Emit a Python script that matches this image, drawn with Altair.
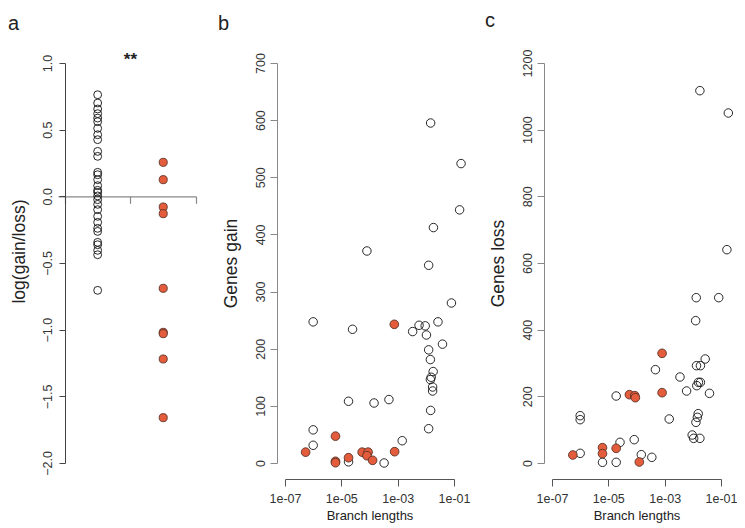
import altair as alt
import pandas as pd

FONT = "Liberation Sans"
RED = "#E35D3D"
RED_STROKE = "#4a2a20"

# ---------- panel a: log(gain/loss) ----------
a_white = [0.762, 0.70, 0.655, 0.62, 0.587, 0.56, 0.51, 0.462, 0.425, 0.337, 0.30,
           0.18, 0.162, 0.125, 0.08, 0.045, 0.03, 0.003, -0.025, -0.06, -0.10, -0.15,
           -0.195, -0.24, -0.263, -0.345, -0.363, -0.405, -0.438, -0.705]
a_red = [0.255, 0.125, -0.08, -0.13, -0.69, -1.02, -1.03, -1.22, -1.66]
a_white_pos = 0.5
a_red_pos = 1.5
a_yticks = [-2.0, -1.5, -1.0, -0.5, 0.0, 0.5, 1.0]
sig_label = "**"
sig_x = 1.0
sig_y = 1.0

# ---------- panel b: genes gain vs branch length ----------
b_white_x = [1.0e-6, 1.0e-6, 1.0e-6, 1.8e-5, 1.8e-5, 2.5e-5, 8.1e-5, 1.45e-4, 4.9e-4,
             3.3e-4, 1.45e-3, 3.4e-3, 5.75e-3, 9.5e-3, 1.05e-2, 1.26e-2, 1.45e-2,
             1.82e-2, 1.55e-2, 1.45e-2, 1.74e-2, 1.74e-2, 1.48e-2, 1.26e-2, 1.26e-2,
             2.7e-2, 3.9e-2, 8.1e-2, 1.48e-2, 0.178, 0.158, 1.86e-2]
b_white_y = [247, 58, 31, 2, 108, 234, 371, 105, 111,
             0, 39, 230, 241, 240, 224, 198, 181,
             160, 150, 146, 133, 126, 92, 60, 346,
             247, 208, 280, 595, 524, 443, 412]
b_red_x = [5.4e-7, 6.2e-6, 6.2e-6, 6.2e-6, 1.8e-5, 5.5e-5, 8.9e-5, 8.1e-5, 1.29e-4,
           7.8e-4, 7.6e-4]
b_red_y = [19, 47, 3, 0.5, 9.3, 19, 19, 12.8, 4.7, 19.8, 242.7]
b_yticks = [0, 100, 200, 300, 400, 500, 600, 700]

# ---------- panel c: genes loss vs branch length ----------
c_white_x = [1.0e-6, 1.0e-6, 1.0e-6, 6.2e-6, 1.9e-5, 1.9e-5, 2.6e-5, 8.3e-5, 1.48e-4,
             3.5e-4, 4.7e-4, 1.45e-3, 3.5e-3, 6.0e-3, 9.5e-3, 1.07e-2, 1.29e-2,
             1.45e-2, 1.55e-2, 1.78e-2, 1.38e-2, 1.58e-2, 1.86e-2, 1.35e-2, 1.86e-2,
             2.75e-2, 3.9e-2, 1.32e-2, 1.26e-2, 8.3e-2, 0.162, 1.78e-2, 0.182]
c_white_y = [142, 130, 29, 2, 2, 201, 62, 70, 25,
             17, 280, 132, 258, 216, 84, 74, 122,
             137, 148, 74, 232, 242, 242, 292, 292,
             312, 209, 496, 427, 496, 640, 1117, 1050]
c_red_x = [5.5e-7, 6.2e-6, 6.2e-6, 1.9e-5, 1.26e-4, 5.6e-5, 8.7e-5, 9.1e-5, 8.1e-4, 8.1e-4]
c_red_y = [24, 46, 28, 44, 3, 205, 202, 196, 329, 211]
c_yticks = [0, 200, 400, 600, 800, 1000, 1200]

x_ticks = [1e-7, 1e-5, 1e-3, 1e-1]
x_tick_labels = ["1e-07", "1e-05", "1e-03", "1e-01"]
x_exps = [-7, -5, -3, -1]

label_expr = "''"
for e, lab in zip(reversed(x_exps), reversed(x_tick_labels)):
    label_expr = f"(round(log(datum.value)/LN10) == {e}) ? '{lab}' : ({label_expr})"

W_A, W_BC, H = 138, 169, 400
AXC = "#555555"
LABC = "#333333"


def letter(t, dx, dy):
    return alt.TitleParams(text=t, anchor="start", frame="group", dx=dx, dy=dy, offset=19,
                           fontSize=20, font=FONT, fontWeight="normal", color="#222222",
                           baseline="top")


# ---- panel a ----
dfa_w = pd.DataFrame({"g": [a_white_pos] * len(a_white), "v": a_white})
dfa_r = pd.DataFrame({"g": [a_red_pos] * len(a_red), "v": a_red})
dfa_s = pd.DataFrame({"g": [sig_x], "v": [sig_y], "t": [sig_label]})

xa = alt.X("g:Q", scale=alt.Scale(domain=[-0.105, 2], nice=False, zero=False),
           axis=alt.Axis(values=[0, 1, 2], labels=False, title=None, grid=False,
                         offset=-(H - H / 3.0), domainColor="#888888", tickColor="#888888",
                         tickSize=7, domainWidth=1.2, tickWidth=1.2))
ya = alt.Y("v:Q", scale=alt.Scale(domain=[-2, 1], nice=False, zero=False),
           axis=alt.Axis(values=a_yticks, format=".1f", labelAngle=-90, labelAlign="center",
                         labelBaseline="bottom", offset=-7, title="log(gain/loss)",
                         titleFontSize=17.5, titleFont=FONT, titleFontWeight="normal",
                         titleColor="#222222", titleX=-37, titleY=188,
                         labelFont=FONT, labelFontSize=12.5, labelColor=LABC, labelPadding=5,
                         grid=False, domainColor="#444444", tickColor="#444444", tickSize=6))

pa_w = alt.Chart(dfa_w).mark_point(shape="circle", filled=False, size=62, color="#111111",
                                   strokeWidth=0.9, opacity=1).encode(x=xa, y=ya)
pa_r = alt.Chart(dfa_r).mark_point(shape="circle", filled=True, size=66, fill=RED,
                                   stroke=RED_STROKE, strokeWidth=0.8, opacity=1).encode(x="g:Q", y="v:Q")
pa_s = alt.Chart(dfa_s).mark_text(font=FONT, fontSize=17, fontWeight="bold", color="#222222",
                                  baseline="middle", dy=-3).encode(x="g:Q", y="v:Q", text="t:N")
panel_a = alt.layer(pa_w, pa_r, pa_s).properties(width=W_A, height=H, title=letter("a", -50, 2))


def scatter_panel(wx, wy, rx, ry, yticks, ymax, ytitle, lett, ldy):
    dfw = pd.DataFrame({"x": wx, "y": wy})
    dfr = pd.DataFrame({"x": rx, "y": ry})
    xx = alt.X("x:Q", scale=alt.Scale(type="log", domain=[1e-7, 1e-1], nice=False),
               axis=alt.Axis(values=x_ticks, labelExpr=label_expr, title="Branch lengths",
                             titleFontSize=13, titleFont=FONT, titleFontWeight="normal",
                             titleColor="#222222", titlePadding=5,
                             labelFont=FONT, labelFontSize=12.5, labelColor=LABC,
                             labelPadding=6, grid=False, offset=16, domainColor=AXC,
                             tickColor=AXC, tickSize=7, labelFlush=False))
    yy = alt.Y("y:Q", scale=alt.Scale(domain=[0, ymax], nice=False, zero=False),
               axis=alt.Axis(values=yticks, format="d", labelAngle=-90, labelAlign="center",
                             labelBaseline="bottom", offset=8, title=ytitle,
                             titleFontSize=17.5, titleFont=FONT, titleFontWeight="normal",
                             titleColor="#222222", titlePadding=14,
                             labelFont=FONT, labelFontSize=12.5, labelColor=LABC,
                             labelPadding=3, grid=False, domainColor="#888888",
                             tickColor="#888888", tickSize=7))
    w = alt.Chart(dfw).mark_point(shape="circle", filled=False, size=72, color="#111111",
                                  strokeWidth=0.9, opacity=1, clip=False).encode(x=xx, y=yy)
    r = alt.Chart(dfr).mark_point(shape="circle", filled=True, size=76, fill=RED,
                                  stroke=RED_STROKE, strokeWidth=0.8, opacity=1,
                                  clip=False).encode(x="x:Q", y="y:Q")
    return alt.layer(w, r).properties(width=W_BC, height=H, title=letter(lett, -67, ldy))


panel_b = scatter_panel(b_white_x, b_white_y, b_red_x, b_red_y, b_yticks, 700, "Genes gain", "b", 0)
panel_c = scatter_panel(c_white_x, c_white_y, c_red_x, c_red_y, c_yticks, 1200, "Genes loss", "c", 1)

inner = alt.hconcat(panel_b, panel_c, spacing=98, bounds="flush")
chart = alt.hconcat(panel_a, inner, spacing=89, bounds="flush").properties(
    padding={"top": 3, "left": 0, "right": 0, "bottom": 0}, background="white"
).configure_view(strokeWidth=0, stroke="transparent")

chart.save("out.html", embed_options={"renderer": "svg", "actions": False})
